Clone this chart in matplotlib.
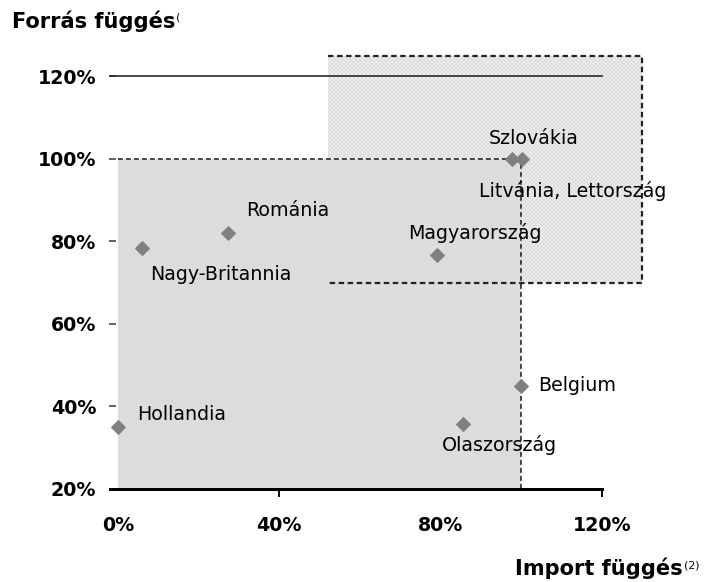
import matplotlib
matplotlib.use("Agg")
import matplotlib.pyplot as plt
from matplotlib.patches import Rectangle
from matplotlib.transforms import Bbox

# ---------------- data ----------------
countries = ["Hollandia", "Nagy-Britannia", "Románia", "Magyarország",
             "Szlovákia", "Litvánia, Lettország", "Belgium", "Olaszország"]
import_dep = [0, 6, 27.3, 79.1, 97.7, 100.2, 100, 85.5]      # x, %
source_dep = [35, 78.5, 82.1, 76.7, 100, 100, 45, 35.8]      # y, %

x_ticks = [0, 40, 80, 120]
x_tick_labels = ["0%", "40%", "80%", "120%"]
y_ticks = [20, 40, 60, 80, 100, 120]
y_tick_labels = ["20%", "40%", "60%", "80%", "100%", "120%"]

# zones (x0, x1, y0, y1) in %
safe_zone = (0, 100, 20, 100)
risk_zone = (52, 130, 70, 125)
ref_line_y = 120

# ---------------- label placement (offset in px, alignment) ----------------
label_style = {
    "Hollandia": ((19, 13), "left"),
    "Nagy-Britannia": ((79, -27), "center"),
    "Románia": ((60, 22), "center"),
    "Magyarország": ((38, 22), "center"),
    "Szlovákia": ((22, 20), "center"),
    "Litvánia, Lettország": ((51, -32), "center"),
    "Belgium": ((17, 0), "left"),
    "Olaszország": ((37, -21), "center"),
}

W, H, DPI = 704, 582, 72
fig = plt.figure(figsize=(W / DPI, H / DPI), dpi=DPI)
ax = fig.add_axes([0.1389, 0.1244, 0.8021, 0.8151])
ax.set_xlim(-5, 135)
ax.set_ylim(15, 130)
ax.patch.set_alpha(0)

plt.rcParams["hatch.linewidth"] = 0.8

# risk zone: textured light fill
rx0, rx1, ry0, ry1 = risk_zone
ax.add_patch(Rectangle((rx0, ry0), rx1 - rx0, ry1 - ry0, facecolor="#f2f2f2",
                       edgecolor="none", zorder=1))
ax.add_patch(Rectangle((rx0, ry0), rx1 - rx0, ry1 - ry0, fill=False,
                       hatch="xxxxxx", edgecolor="#dadada", linewidth=0, zorder=1.1))
dash = (0, (2.5, 1.6))
ax.plot([rx0, rx1, rx1, rx0], [ry1, ry1, ry0, ry0], color="#222222",
        lw=2.2, linestyle=dash, zorder=3, dash_capstyle="butt")

# safe zone: gray area
sx0, sx1, sy0, sy1 = safe_zone
ax.add_patch(Rectangle((sx0, sy0), sx1 - sx0, sy1 - sy0, facecolor="#dcdcdc",
                       edgecolor="none", zorder=2))
ax.plot([sx0, sx1, sx1], [sy1, sy1, sy0], color="#222222", lw=1.6,
        linestyle=(0, (3, 2)), zorder=3, dash_capstyle="butt")

# 120% reference line
ax.plot([-2, 120], [ref_line_y, ref_line_y], color="#222222", lw=1.6, zorder=3)

# points
ax.plot(import_dep, source_dep, linestyle="none", marker="D", markersize=10,
        color="#808080", markeredgecolor="#808080", zorder=4, clip_on=False)

# labels
for name, xv, yv in zip(countries, import_dep, source_dep):
    (dx, dy), ha = label_style[name]
    ax.annotate(name, (xv, yv), xytext=(dx, dy), textcoords="offset points",
                ha=ha, va="center", fontsize=19, family="DejaVu Sans",
                color="black", zorder=5)

# axes styling
for s in ["top", "right"]:
    ax.spines[s].set_visible(False)
ax.spines["left"].set_position(("data", -0.4))
ax.spines["left"].set_visible(False)
ax.spines["bottom"].set_position(("data", 20))
ax.spines["bottom"].set_bounds(-2, 120)
ax.spines["bottom"].set_linewidth(3)
ax.spines["bottom"].set_zorder(3.5)

ax.set_xticks(x_ticks)
ax.set_xticklabels(x_tick_labels, fontsize=19, fontweight="bold", family="DejaVu Sans")
ax.set_yticks(y_ticks)
ax.set_yticklabels(y_tick_labels, fontsize=19, fontweight="bold", family="DejaVu Sans")
ax.tick_params(axis="x", direction="out", length=8, width=2, pad=19, color="#111111")
ax.tick_params(axis="y", direction="out", length=7, width=1.5, pad=13, color="#333333")
for t, v in zip(ax.xaxis.get_major_ticks(), x_ticks):
    if v in (0, 80):
        t.tick1line.set_visible(False)

# titles
t1 = fig.text(12 / W, 1 - 28 / H, "Forrás függés", fontsize=21, fontweight="bold",
              family="DejaVu Sans", va="baseline", ha="left")
fig.canvas.draw()
bb = t1.get_window_extent()
sup1 = fig.text(bb.x1 / W + 1 / W, 1 - 18 / H, "(1)", fontsize=11, va="center",
                ha="left", family="DejaVu Sans")
sup1.set_clip_box(Bbox.from_extents(0, 0, bb.x1 + 6, H))
sup1.set_clip_on(True)

t2 = fig.text(683 / W, 1 - 575 / H, "Import függés", fontsize=21, fontweight="bold",
              family="DejaVu Sans", va="baseline", ha="right")
fig.text(684 / W, 1 - 565 / H, "(2)", fontsize=11, family="DejaVu Sans",
         va="center", ha="left")

fig.savefig("out.png", dpi=DPI)
